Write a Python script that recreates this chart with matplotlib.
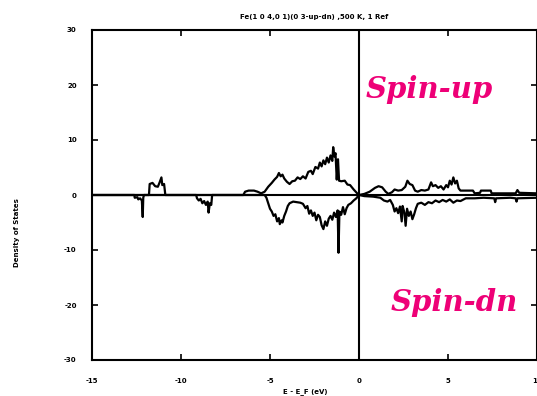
"""
Fe 态密度 (自旋向上 / 自旋向下)
"""

import numpy as np
import matplotlib
matplotlib.use('Agg')
import matplotlib.pyplot as plt

plt.rcParams['axes.unicode_minus'] = False

# 自旋向上 DOS
e_up = [-15, -11.80, -11.76, -11.6, -11.45, -11.3, -11.2, -11.1, -11.05, -10.95, -10.88,
        -6.5, -6.4, -6.2, -5.9, -5.7, -5.5, -5.3, -5.1, -4.9, -4.75, -4.6, -4.5, -4.4,
        -4.3, -4.2, -4.05, -3.9, -3.75, -3.6, -3.45, -3.3, -3.15, -3.0, -2.85, -2.7,
        -2.6, -2.45, -2.3, -2.2, -2.1, -2.0, -1.9, -1.8, -1.7, -1.6, -1.5, -1.45,
        -1.38, -1.32, -1.25, -1.18, -1.12, -1.0, -0.8, -0.65, -0.5, -0.3, -0.1, 0.0,
        0.3, 0.6, 0.9, 1.1, 1.3, 1.5, 1.65, 1.85, 2.0, 2.2, 2.4, 2.6, 2.72, 2.85, 3.0,
        3.15, 3.3, 3.5, 3.7, 3.9, 4.05, 4.15, 4.3, 4.45, 4.6, 4.75, 4.9, 5.0, 5.1, 5.2,
        5.3, 5.4, 5.5, 5.6, 5.7, 6.4, 6.5, 6.8, 6.85, 7.4, 7.45, 8.8, 8.9, 9.0, 10.0]
dos_up = [0, 0, 2.0, 2.2, 1.6, 1.5, 2.3, 3.2, 1.8, 2.0, 0,
          0, 0.6, 0.8, 0.8, 0.6, 0.3, 0.6, 1.5, 2.2, 2.8, 3.3, 4.0, 3.4,
          3.7, 3.0, 2.4, 2.0, 2.5, 2.6, 3.2, 2.9, 3.4, 3.0, 4.2, 4.4,
          3.8, 5.1, 4.8, 5.9, 5.2, 6.3, 5.6, 6.8, 5.9, 7.2, 6.2, 8.7,
          7.0, 7.6, 2.8, 6.5, 2.6, 2.5, 2.6, 1.9, 1.8, 1.0, 0.3, 0.0,
          0.2, 0.6, 1.3, 1.6, 1.4, 0.6, 0.2, 0.5, 1.0, 0.8, 0.9, 1.5, 2.6, 2.0, 1.8,
          0.8, 0.6, 0.9, 0.8, 1.0, 2.3, 1.6, 1.8, 1.3, 1.6, 1.0, 1.8, 1.4, 2.6, 1.9,
          3.2, 2.1, 2.6, 1.2, 0.8, 0.8, 0.3, 0.4, 0.8, 0.8, 0.3, 0.3, 0.9, 0.4, 0.3]

# 自旋向下 DOS (画成负值)
e_dn = [-15, -12.62, -12.6, -12.45, -12.4, -12.3, -12.2, -12.15, -12.12, -12.08,
        -9.15, -9.1, -9.0, -8.9, -8.8, -8.7, -8.6, -8.5, -8.45, -8.38, -8.3, -8.25,
        -5.3, -5.2, -5.1, -5.0, -4.9, -4.8, -4.7, -4.6, -4.5, -4.45, -4.35, -4.3,
        -4.2, -4.1, -4.0, -3.9, -3.7, -3.5, -3.3, -3.15, -3.0, -2.9, -2.8, -2.7,
        -2.6, -2.5, -2.4, -2.3, -2.2, -2.1, -2.0, -1.9, -1.8, -1.7, -1.6, -1.5,
        -1.4, -1.3, -1.2, -1.15, -1.1, -1.0, -0.9, -0.8, -0.7, -0.6, -0.45, -0.3,
        -0.15, 0.0, 0.3, 0.8, 1.2, 1.4, 1.6, 1.75, 1.9, 2.0, 2.1, 2.2, 2.3, 2.4,
        2.45, 2.55, 2.62, 2.7, 2.8, 2.9, 3.0, 3.1, 3.2, 3.3, 3.5, 3.7, 3.9, 4.1,
        4.3, 4.5, 4.7, 4.9, 5.1, 5.3, 5.5, 5.7, 6.0, 6.5, 7.0, 7.6, 7.65, 7.7,
        8.5, 8.8, 8.85, 8.9, 10.0]
dos_dn = [0, 0, -0.5, -0.4, -0.8, -0.6, -1.0, -4.0, -0.5, 0,
          0, -0.6, -1.0, -0.7, -1.5, -1.1, -1.8, -1.2, -3.2, -1.5, -1.8, 0,
          0, -0.5, -1.5, -2.5, -3.0, -3.8, -3.5, -4.8, -4.2, -5.3, -4.6, -5.0,
          -3.8, -3.0, -2.0, -1.5, -1.2, -1.3, -1.4, -1.6, -2.4, -2.0, -3.4, -2.8,
          -3.8, -3.2, -4.6, -3.6, -4.0, -5.5, -6.2, -4.8, -5.6, -4.3, -3.8, -4.5,
          -3.2, -4.0, -2.8, -10.5, -3.0, -3.6, -2.2, -3.5, -2.4, -1.8, -1.5, -1.0,
          -0.6, 0.0, -0.2, -0.3, -0.5, -1.0, -1.2, -0.9, -1.8, -3.0, -2.4, -3.3, -2.1, -4.8,
          -2.0, -3.2, -5.6, -2.5, -3.8, -3.0, -4.4, -3.5, -2.4, -1.6, -1.4, -1.8, -1.3, -1.5,
          -1.0, -1.3, -0.9, -1.2, -0.8, -1.4, -1.0, -1.1, -0.6, -0.6, -0.5, -0.6, -1.3, -0.6,
          -0.5, -0.6, -1.2, -0.6, -0.5]

x_ticks = [-15, -10, -5, 0, 5, 10]
y_ticks = [30, 20, 10, 0, -10, -20, -30]

fig = plt.figure(figsize=(5.37, 3.96), dpi=100)
ax = fig.add_axes([92 / 537, 36 / 396, 445 / 537, 330 / 396])

ax.plot(e_up, dos_up, color='black', linewidth=1.6)
ax.plot(e_dn, dos_dn, color='black', linewidth=1.6)
ax.axhline(0, color='black', linewidth=1.5)
ax.axvline(0, color='black', linewidth=1.5)

ax.set_xlim(-15, 10)
ax.set_ylim(-30, 30)
ax.set_xticks(x_ticks)
ax.set_yticks(y_ticks)
ax.set_xticklabels([str(t) for t in x_ticks])
ax.set_yticklabels([str(t) for t in y_ticks])
ax.tick_params(direction='in', length=4, width=1.2, top=True, right=True,
               labelsize=5, pad=8)
ax.tick_params(axis='x', pad=13)
ax.tick_params(axis='y', pad=11)
for lab in ax.get_xticklabels() + ax.get_yticklabels():
    lab.set_fontweight('bold')
for sp in ax.spines.values():
    sp.set_linewidth(1.5)

ax.set_title('Fe(1 0 4,0 1)(0 3-up-dn) ,500 K, 1 Ref', fontsize=5,
             fontweight='bold', pad=8)
ax.set_xlabel('E - E_F (eV)', fontsize=5, fontweight='bold')
ax.xaxis.set_label_coords(0.48, -0.085)
ax.set_ylabel('Density of States', fontsize=5, fontweight='bold')
ax.yaxis.set_label_coords(-0.162, 0.385)

ax.text(3.95, 19.2, 'Spin-up', color='#ee0077', fontsize=21, family='DejaVu Serif',
        fontweight='bold', fontstyle='italic', ha='center', va='center')
ax.text(5.35, -19.5, 'Spin-dn', color='#ee0077', fontsize=21, family='DejaVu Serif',
        fontweight='bold', fontstyle='italic', ha='center', va='center')

fig.savefig('out.png', dpi=100)
